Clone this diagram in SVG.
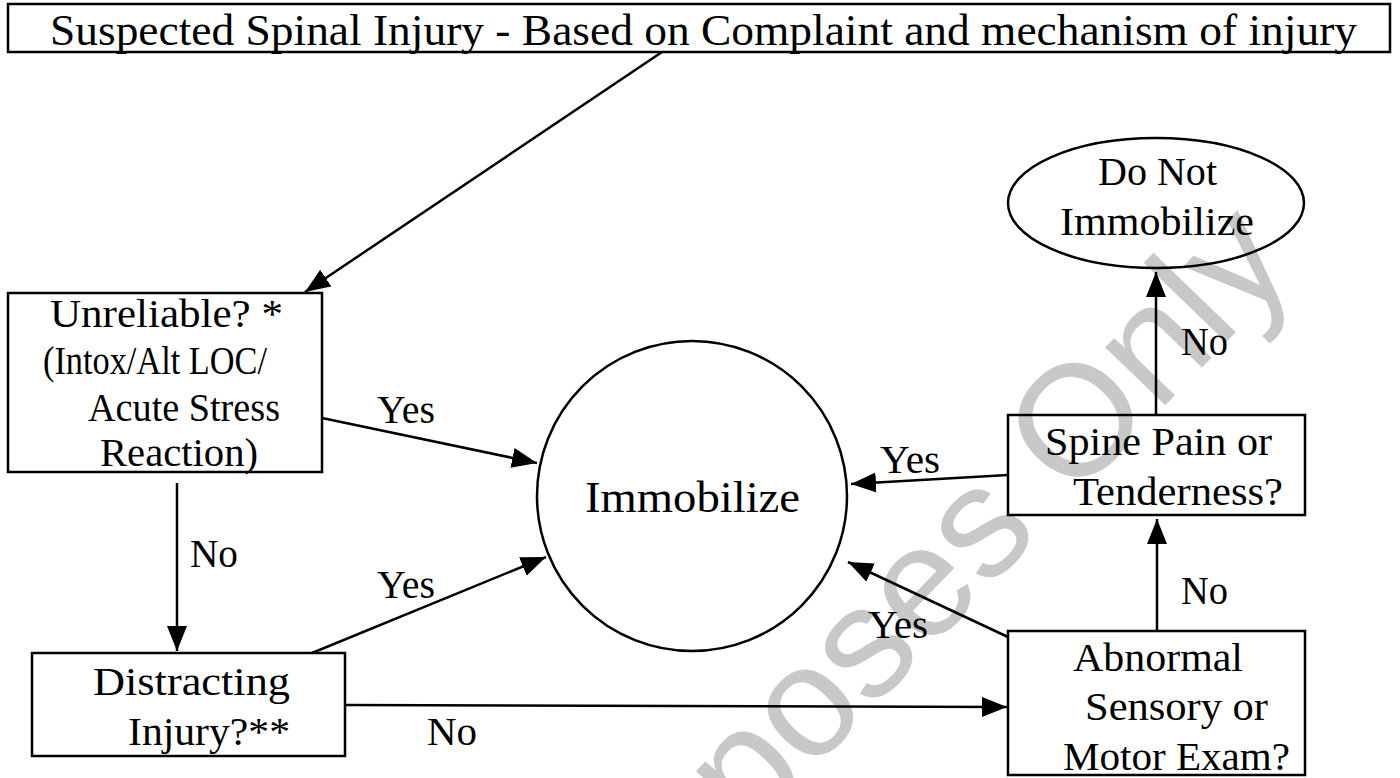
<svg xmlns="http://www.w3.org/2000/svg" width="1400" height="778" viewBox="0 0 1400 778">
  <defs>
    <marker id="ah" markerUnits="userSpaceOnUse" markerWidth="26" markerHeight="22" refX="25" refY="10" orient="auto">
      <path d="M0,0 L25,10 L0,20 z" fill="#000"/>
    </marker>
    <style>
      .box { fill: none; stroke: #000; stroke-width: 2.5; }
      .edge { fill: none; stroke: #000; stroke-width: 2.5; marker-end: url(#ah); }
      .t { font-family: "Liberation Serif", "DejaVu Serif", serif; font-size: 41px; fill: #000; }
      .wm { font-family: "Liberation Sans", Arial, sans-serif; font-size: 158px; fill: #c8c8c8; }
    </style>
  </defs>
  <rect width="1400" height="778" fill="#fff"/>

  <g id="watermark">
    <text class="wm" x="1298" y="268" text-anchor="end" transform="rotate(-46 1298 268)">Purposes Only</text>
  </g>

  <g id="connectors">
    <line class="edge" x1="662" y1="52" x2="305" y2="292"/>
    <line class="edge" x1="322" y1="418" x2="537" y2="463"/>
    <line class="edge" x1="177" y1="483" x2="177" y2="651"/>
    <line class="edge" x1="312" y1="653" x2="546" y2="557"/>
    <line class="edge" x1="345" y1="705" x2="1007" y2="707"/>
    <line class="edge" x1="1157" y1="631" x2="1157" y2="519"/>
    <line class="edge" x1="1156" y1="415" x2="1156" y2="272"/>
    <line class="edge" x1="1008" y1="475" x2="851" y2="484"/>
    <line class="edge" x1="1008" y1="637" x2="848" y2="562"/>
    <text class="t" x="377" y="423" textLength="58" lengthAdjust="spacingAndGlyphs">Yes</text>
    <text class="t" x="190" y="567" textLength="48" lengthAdjust="spacingAndGlyphs">No</text>
    <text class="t" x="377" y="598" textLength="58" lengthAdjust="spacingAndGlyphs">Yes</text>
    <text class="t" x="427" y="745" textLength="50" lengthAdjust="spacingAndGlyphs">No</text>
    <text class="t" x="1181" y="355" textLength="47" lengthAdjust="spacingAndGlyphs">No</text>
    <text class="t" x="1181" y="604" textLength="47" lengthAdjust="spacingAndGlyphs">No</text>
    <text class="t" x="880" y="473" textLength="60" lengthAdjust="spacingAndGlyphs">Yes</text>
    <text class="t" x="868" y="638" textLength="60" lengthAdjust="spacingAndGlyphs">Yes</text>
  </g>

  <g id="start">
    <rect class="box" x="8" y="4" width="1382" height="48"/>
    <text class="t" x="50" y="45" style="font-size:44px" textLength="1307" lengthAdjust="spacingAndGlyphs">Suspected Spinal Injury - Based on Complaint and mechanism of injury</text>
  </g>

  <g id="unreliable">
    <rect class="box" x="8" y="293" width="314" height="179"/>
    <text class="t" x="50" y="327" textLength="233" lengthAdjust="spacingAndGlyphs">Unreliable? *</text>
    <text class="t" x="43" y="374" textLength="224" lengthAdjust="spacingAndGlyphs">(Intox/Alt LOC/</text>
    <text class="t" x="88" y="421" textLength="192" lengthAdjust="spacingAndGlyphs">Acute Stress</text>
    <text class="t" x="100" y="466" textLength="158" lengthAdjust="spacingAndGlyphs">Reaction)</text>
  </g>

  <g id="distracting">
    <rect class="box" x="32" y="653" width="313" height="103"/>
    <text class="t" x="93" y="695" textLength="197" lengthAdjust="spacingAndGlyphs">Distracting</text>
    <text class="t" x="128" y="745" textLength="162" lengthAdjust="spacingAndGlyphs">Injury?**</text>
  </g>

  <g id="immobilize">
    <circle class="box" cx="692" cy="496" r="155"/>
    <text class="t" x="585" y="512" style="font-size:45px" textLength="215" lengthAdjust="spacingAndGlyphs">Immobilize</text>
  </g>

  <g id="do-not-immobilize">
    <ellipse class="box" cx="1156" cy="203" rx="148" ry="65"/>
    <text class="t" x="1098" y="185" textLength="119" lengthAdjust="spacingAndGlyphs">Do Not</text>
    <text class="t" x="1060" y="235" textLength="194" lengthAdjust="spacingAndGlyphs">Immobilize</text>
  </g>

  <g id="spine-pain">
    <rect class="box" x="1008" y="415" width="297" height="100"/>
    <text class="t" x="1045" y="455" textLength="227" lengthAdjust="spacingAndGlyphs">Spine Pain or</text>
    <text class="t" x="1073" y="505" textLength="210" lengthAdjust="spacingAndGlyphs">Tenderness?</text>
  </g>

  <g id="abnormal-exam">
    <rect class="box" x="1008" y="631" width="297" height="144"/>
    <text class="t" x="1073" y="671" textLength="170" lengthAdjust="spacingAndGlyphs">Abnormal</text>
    <text class="t" x="1085" y="720" textLength="183" lengthAdjust="spacingAndGlyphs">Sensory or</text>
    <text class="t" x="1063" y="770" textLength="227" lengthAdjust="spacingAndGlyphs">Motor Exam?</text>
  </g>
</svg>
